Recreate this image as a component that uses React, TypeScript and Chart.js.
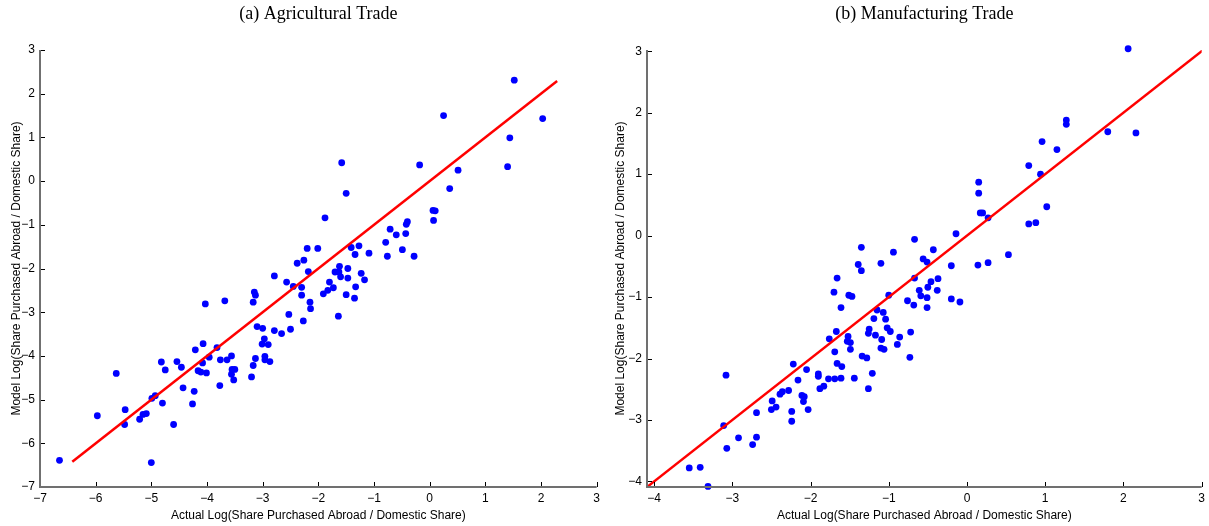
import React, { useEffect, useRef } from 'react';
import { Chart, registerables } from 'chart.js';

Chart.register(...registerables);

// (a) Agricultural Trade
const agActual = [
  -6.65, -5.0, -5.97, -5.63, -5.47, -5.48, -5.21, -5.15, -5.09, -4.99,
  -4.93, -4.8, -4.6, -4.82, -4.75, -4.54, -4.46, -4.43, -4.23, -4.26,
  -4.21, -4.07, -4.08, -4.16, -4.11, -4.01, -4.03, -3.96, -3.82, -3.76,
  -3.77, -3.68, -3.64, -3.56, -3.55, -3.5, -3.56, -3.52, -3.2, -3.17,
  -3.13, -3.15, -3.13, -3.17, -3.1, -3.0, -2.97, -3.01, -2.9, -2.96,
  -2.96, -2.87, -2.79, -2.79, -2.66, -2.57, -2.53, -2.5, -2.45, -2.3,
  -2.3, -2.27, -2.18, -2.15, -2.14, -2.38, -2.26, -2.2, -2.01, 1.52,
  2.03, 1.44, 1.4, 0.25, 0.51, 0.36, -0.18, -1.58, -1.5, -1.88,
  0.06, 0.1, 0.07, -0.71, -0.6, -0.43, -0.42, -0.4, -0.79, -0.76,
  -0.49, -0.28, -1.09, -1.27, -1.41, -1.34, -1.62, -1.47, -1.7, -1.63,
  -1.6, -1.47, -1.23, -1.17, -1.8, -1.73, -1.83, -1.91, -1.33, -1.5,
  -1.35, -1.64,
];
const agModel = [
  -6.39, -6.44, -5.37, -4.4, -5.23, -5.57, -5.45, -5.34, -5.32, -4.97,
  -4.91, -5.08, -5.57, -4.14, -4.32, -4.13, -4.26, -4.73, -4.81, -5.1,
  -3.86, -3.72, -4.16, -4.34, -4.37, -4.39, -2.81, -4.03, -3.81, -4.09,
  -4.68, -2.74, -4.09, -4.0, -4.31, -4.31, -4.42, -4.55, -4.48, -4.22,
  -4.06, -2.54, -2.61, -2.77, -3.33, -3.37, -3.61, -3.73, -3.74, -4.01,
  -4.09, -4.13, -2.17, -3.42, -3.49, -2.31, -3.05, -3.39, -2.41, -2.43,
  -2.61, -3.2, -2.07, -2.77, -2.92, -1.88, -1.81, -1.54, -1.54, 2.31,
  1.43, 0.99, 0.33, 1.5, 0.25, -0.17, 0.37, 0.42, -0.28, -0.84,
  -0.67, -0.68, -0.9, -1.1, -1.23, -1.2, -0.99, -0.93, -1.4, -1.72,
  -1.57, -1.72, -1.65, -1.48, -1.52, -1.68, -1.95, -2.0, -2.08, -2.08,
  -2.19, -2.22, -2.11, -2.26, -2.31, -2.44, -2.5, -2.58, -2.42, -2.6,
  -2.68, -3.09,
];
const agFitX = [-6.42, 2.29];
const agFitY = [-6.42, 2.29];

// (b) Manufacturing Trade
const mfActual = [
  -1.35, -0.94, -0.67, 2.06, 2.16, 1.8, 1.27, 1.27, 0.96, 1.15,
  0.79, 0.94, 1.02, 0.79, 0.88, 0.15, 0.15, 0.17, 0.2, 0.27,
  -0.14, -0.43, -0.56, -0.51, 0.53, -0.2, 0.14, 0.27, -1.39, -1.35,
  -1.1, -0.67, -1.66, -1.7, -1.51, -1.47, -1.61, -1.0, -0.37, -0.46,
  -0.5, -0.38, -0.61, -0.59, -0.51, -0.51, -0.2, -0.09, -0.76, -0.68,
  -1.15, -1.07, -1.19, -1.04, -1.67, -1.76, -1.25, -1.26, -1.17, -1.02,
  -0.98, -1.09, -0.86, -0.72, -0.89, -1.52, -1.53, -1.49, -1.49, -1.1,
  -1.06, -1.69, -1.34, -1.28, -0.73, -2.22, -1.66, -1.6, -2.05, -1.21,
  -1.9, -1.9, -1.77, -1.69, -1.61, -1.44, -2.16, -1.83, -1.88, -1.26,
  -2.28, -2.36, -2.39, -2.11, -2.08, -2.09, -2.03, -2.49, -2.44, -2.5,
  -2.24, -2.24, -2.69, -3.08, -3.11, -2.92, -2.69, -2.74, -3.07, -3.55,
  -3.41, -3.31,
];
const mfModel = [
  -0.19, -0.27, -0.06, 3.04, 1.67, 1.69, 1.88, 1.81, 1.53, 1.4,
  1.14, 1.0, 0.47, 0.19, 0.21, 0.87, 0.69, 0.37, 0.37, 0.29,
  0.03, -0.23, -0.38, -0.43, -0.31, -0.49, -0.48, -0.44, -0.47, -0.57,
  -0.45, -0.69, -0.69, -0.92, -0.97, -0.99, -1.17, -0.97, -0.7, -0.75,
  -0.84, -0.89, -0.89, -0.98, -1.01, -1.17, -1.03, -1.08, -1.06, -1.13,
  -1.21, -1.25, -1.35, -1.36, -1.56, -1.68, -1.52, -1.59, -1.62, -1.5,
  -1.56, -1.69, -1.65, -1.57, -1.77, -1.64, -1.72, -1.74, -1.85, -1.83,
  -1.85, -1.89, -1.96, -1.99, -1.98, -2.09, -2.08, -2.13, -2.18, -2.24,
  -2.25, -2.29, -2.33, -2.33, -2.32, -2.32, -2.35, -2.45, -2.49, -2.49,
  -2.52, -2.54, -2.58, -2.6, -2.62, -2.7, -2.83, -2.69, -2.79, -2.83,
  -2.86, -3.02, -2.88, -2.27, -3.09, -3.29, -3.28, -3.4, -3.46, -3.78,
  -3.77, -4.08,
];
const mfFitX = [-4.1, 3.05];
const mfFitY = [-4.1, 3.05];

const agRange = { xMin: -7, xMax: 3, yMin: -7, yMax: 3 };
const mfRange = { xMin: -4.09, xMax: 3, yMin: -4.09, yMax: 3.02 };

const X_TITLE = 'Actual Log(Share Purchased Abroad / Domestic Share)';
const Y_TITLE = 'Model Log(Share Purchased Abroad / Domestic Share)';

const fmt = (v: number) => (v < 0 ? '\u2212' + Math.abs(v) : String(v));

const axesPlugin = {
  id: 'matlabAxes',
  afterDatasetsDraw(chart: any) {
    const { ctx, chartArea } = chart;
    const xs = chart.scales.x;
    const ys = chart.scales.y;
    ctx.save();
    ctx.strokeStyle = '#000';
    ctx.lineWidth = 1;
    ctx.beginPath();
    xs.ticks.forEach((t: any) => {
      const px = Math.round(xs.getPixelForValue(t.value)) + 0.5;
      ctx.moveTo(px, chartArea.bottom);
      ctx.lineTo(px, chartArea.bottom - 5);
    });
    ys.ticks.forEach((t: any) => {
      const py = Math.round(ys.getPixelForValue(t.value)) + 0.5;
      ctx.moveTo(chartArea.left, py);
      ctx.lineTo(chartArea.left + 5, py);
    });
    ctx.stroke();
    ctx.strokeStyle = '#707070';
    ctx.lineWidth = 2;
    ctx.beginPath();
    ctx.moveTo(chartArea.left, chartArea.top);
    ctx.lineTo(chartArea.left, chartArea.bottom);
    ctx.lineTo(chartArea.right, chartArea.bottom);
    ctx.stroke();
    ctx.restore();
  },
};

type PanelProps = {
  title: string;
  xs: number[];
  ys: number[];
  fitX: number[];
  fitY: number[];
  range: { xMin: number; xMax: number; yMin: number; yMax: number };
  left: number;
  width: number;
  yAxisWidth: number;
};

function Panel({ title, xs, ys, fitX, fitY, range, left, width, yAxisWidth }: PanelProps) {
  const ref = useRef<HTMLCanvasElement | null>(null);
  useEffect(() => {
    if (!ref.current) return;
    const tickFont = { family: 'Liberation Sans, Arial, sans-serif', size: 12 };
    const chart = new Chart(ref.current, {
      type: 'scatter',
      data: {
        datasets: [
          {
            data: fitX.map((x, i) => ({ x, y: fitY[i] })),
            showLine: true,
            borderColor: '#ff0000',
            borderWidth: 2.5,
            pointRadius: 0,
            fill: false,
          } as any,
          {
            data: xs.map((x, i) => ({ x, y: ys[i] })),
            backgroundColor: '#0000ff',
            borderColor: '#0000ff',
            borderWidth: 0,
            pointRadius: 3.4,
            clip: false,
          } as any,
        ],
      },
      options: {
        responsive: false,
        animation: false,
        layout: { padding: { left: 0, right: 6, top: 0, bottom: 0 } },
        plugins: {
          legend: { display: false },
          tooltip: { enabled: false },
          title: {
            display: true,
            fullSize: false,
            text: title,
            color: '#000',
            font: { family: 'Liberation Serif, Times New Roman, serif', size: 18, weight: 'normal', lineHeight: 1.2 },
            padding: { top: 3, bottom: 25.4 },
          },
        },
        scales: {
          x: {
            type: 'linear',
            min: range.xMin,
            max: range.xMax,
            grid: { display: false, drawTicks: false },
            border: { display: false },
            ticks: {
              stepSize: 1,
              includeBounds: false,
              autoSkip: false,
              maxRotation: 0,
              padding: 4,
              color: '#000',
              font: tickFont,
              callback: (v: any) => fmt(Number(v)),
            },
            title: {
              display: true,
              text: X_TITLE,
              color: '#000',
              font: tickFont,
              padding: { top: 0, bottom: 3 },
            },
            afterFit: (s: any) => {
              s.height = 39;
            },
          },
          y: {
            type: 'linear',
            min: range.yMin,
            max: range.yMax,
            grid: { display: false, drawTicks: false },
            border: { display: false },
            ticks: {
              stepSize: 1,
              includeBounds: false,
              autoSkip: false,
              padding: 5,
              color: '#000',
              font: tickFont,
              callback: (v: any) => fmt(Number(v)),
            },
            title: {
              display: true,
              text: Y_TITLE,
              color: '#000',
              font: tickFont,
              padding: { top: 9, bottom: 0 },
            },
            afterFit: (s: any) => {
              s.width = yAxisWidth;
            },
          },
        },
      } as any,
      plugins: [axesPlugin],
    });
    return () => chart.destroy();
  }, []);
  return (
    <canvas
      ref={ref}
      width={width}
      height={526}
      style={{ position: 'absolute', left, top: 0, width, height: 526 }}
    />
  );
}

export default function App() {
  return (
    <div style={{ position: 'absolute', left: 0, top: 0, width: 1209, height: 526, background: '#fff' }}>
      <Panel
        title="(a) Agricultural Trade"
        xs={agActual}
        ys={agModel}
        fitX={agFitX}
        fitY={agFitY}
        range={agRange}
        left={0}
        width={604}
        yAxisWidth={40}
      />
      <Panel
        title="(b) Manufacturing Trade"
        xs={mfActual}
        ys={mfModel}
        fitX={mfFitX}
        fitY={mfFitY}
        range={mfRange}
        left={604}
        width={605}
        yAxisWidth={43}
      />
    </div>
  );
}
